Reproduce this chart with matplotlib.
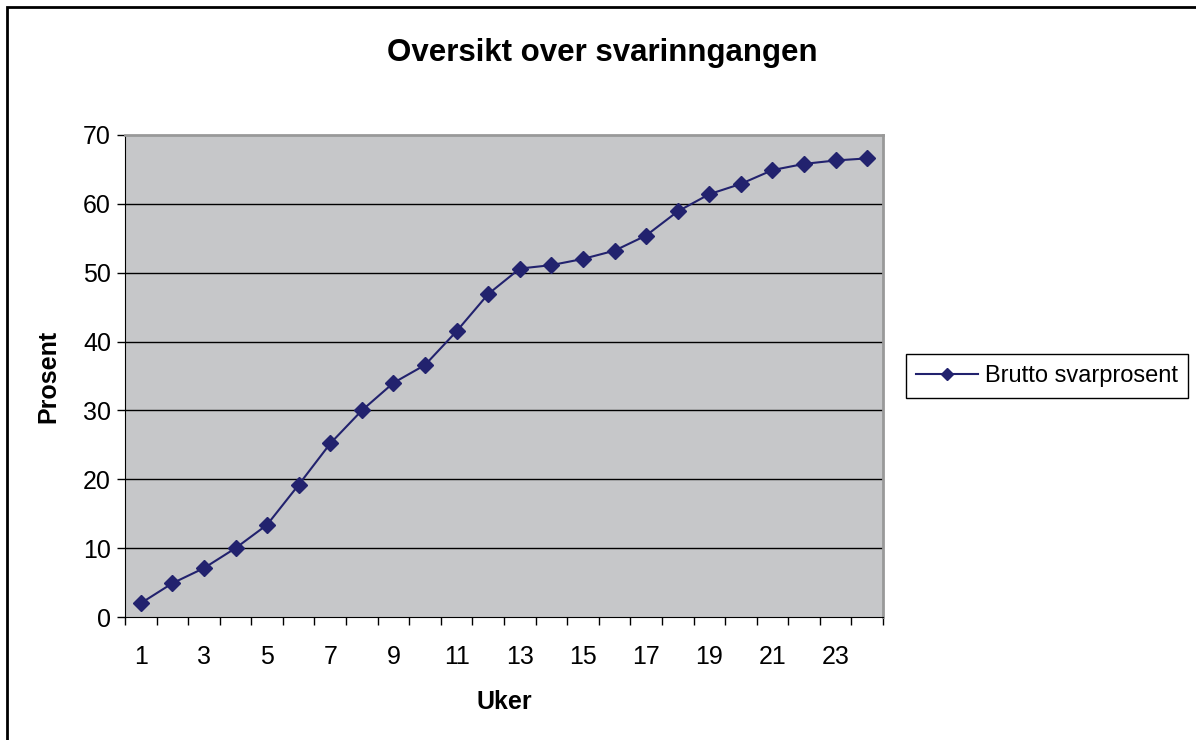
import matplotlib.pyplot as plt
from matplotlib.patches import Rectangle
from matplotlib.ticker import FixedLocator, NullFormatter

plt.rcParams['font.family'] = ['Liberation Sans', 'DejaVu Sans']

# data
weeks = list(range(1, 25))
brutto = [2.0, 4.9, 7.1, 10.0, 13.4, 19.2, 25.2, 30.0, 34.0, 36.6, 41.5, 46.9,
          50.6, 51.1, 52.0, 53.2, 55.4, 58.9, 61.4, 62.9, 64.9, 65.8, 66.3, 66.6]
week_labels = [str(w) for w in weeks[::2]]
y_ticks = [0, 10, 20, 30, 40, 50, 60, 70]

line_color = "#22226e"
bg_color = "#c6c7c9"

fig = plt.figure(figsize=(11.96, 7.4), dpi=100)
ax = fig.add_axes([0.1045, 0.1662, 0.6338, 0.6514])
ax.set_facecolor(bg_color)

ax.plot(weeks, brutto, color=line_color, lw=1.5, marker='D', markersize=8,
        markerfacecolor=line_color, markeredgecolor=line_color,
        label="Brutto svarprosent", zorder=3)

ax.set_xlim(0.5, 24.5)
ax.set_ylim(0, 70)
ax.set_yticks(y_ticks)
ax.tick_params(axis='y', labelsize=18, direction='out', length=6, width=1, pad=4)

# ticks at category boundaries, labels centred in every other slot
ax.xaxis.set_major_locator(FixedLocator([w + 0.5 for w in range(0, 25)]))
ax.xaxis.set_major_formatter(NullFormatter())
ax.xaxis.set_minor_locator(FixedLocator(weeks[::2]))
ax.set_xticklabels(week_labels, minor=True)
ax.tick_params(axis='x', which='major', direction='out', length=6, width=1)
ax.tick_params(axis='x', which='minor', length=0, labelsize=18, pad=20)

for y in y_ticks[1:-1]:
    ax.axhline(y, color='black', lw=1, zorder=1)

ax.spines['left'].set_color('black')
ax.spines['bottom'].set_color('black')
ax.spines['top'].set_color('#999999')
ax.spines['right'].set_color('#999999')
ax.spines['top'].set_linewidth(2)
ax.spines['right'].set_linewidth(2)

ax.set_xlabel("Uker", fontsize=18, fontweight='bold', labelpad=15)
ax.set_ylabel("Prosent", fontsize=18, fontweight='bold', labelpad=16)
fig.text(0.504, 0.928, "Oversikt over svarinngangen", ha='center', va='center',
         fontsize=22.5, fontweight='bold')

leg = ax.legend(loc='center left', bbox_to_anchor=(1.03, 0.5), fontsize=17,
                frameon=True, fancybox=False, edgecolor='black', framealpha=1,
                handlelength=2.6, handletextpad=0.3, borderpad=0.45,
                borderaxespad=0, markerscale=0.8)
leg.get_frame().set_linewidth(1)

# outer chart border (cut off at right and bottom)
fig.add_artist(Rectangle((7 / 1196, -0.1), 1.5, 1.1 - 7 / 740,
                         transform=fig.transFigure, fill=False,
                         edgecolor='black', lw=2))

fig.savefig("out.png", dpi=100)
